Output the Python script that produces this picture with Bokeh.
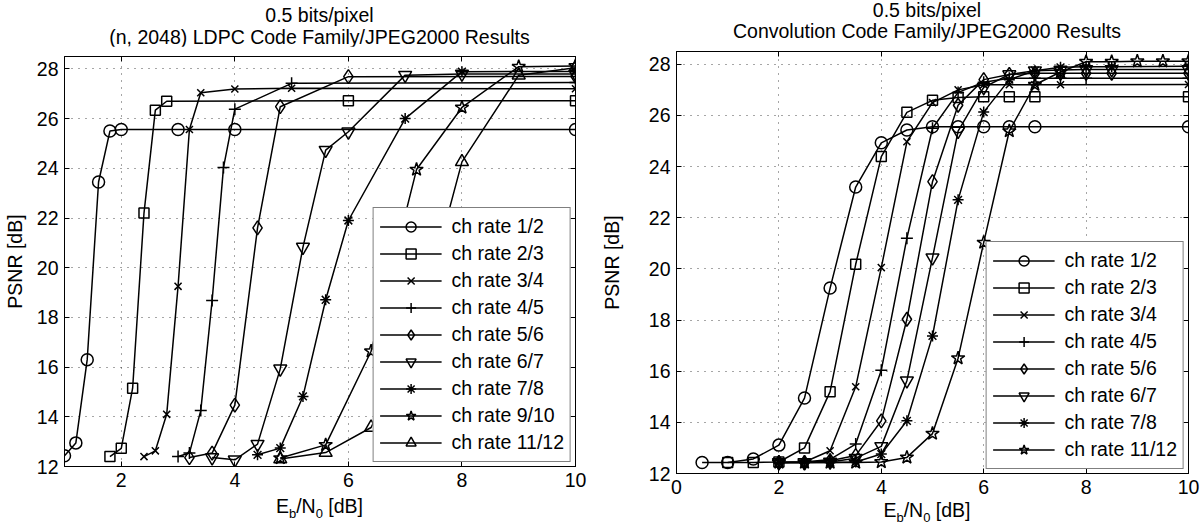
from bokeh.plotting import figure
from bokeh.layouts import row, column
from bokeh.models import FixedTicker, LinearAxis, Range1d, Div
from bokeh.embed import file_html
from bokeh.resources import INLINE

FONT = "Liberation Sans"
FS = "19.5px"

# ---------------- Left: (n, 2048) LDPC code family ----------------
ldpc_title = ["0.5 bits/pixel", "(n, 2048) LDPC Code Family/JPEG2000 Results"]
ldpc_xticks = [2, 4, 6, 8, 10]
yticks = [12, 14, 16, 18, 20, 22, 24, 26, 28]

ldpc_x_r12 = [1.0, 1.2, 1.4, 1.6, 1.8, 2.0, 3.0, 4.0, 10.0]
ldpc_y_r12 = [12.43, 12.95, 16.3, 23.45, 25.5, 25.56, 25.56, 25.56, 25.56]
ldpc_x_r23 = [1.8, 2.0, 2.2, 2.4, 2.6, 2.8, 6.0, 10.0]
ldpc_y_r23 = [12.4, 12.73, 15.15, 22.2, 26.34, 26.7, 26.72, 26.72]
ldpc_x_r34 = [2.4, 2.6, 2.8, 3.0, 3.2, 3.4, 4.0, 5.0, 10.0]
ldpc_y_r34 = [12.4, 12.63, 14.1, 19.25, 25.56, 27.04, 27.19, 27.22, 27.2]
ldpc_x_r45 = [3.0, 3.2, 3.4, 3.6, 3.8, 4.0, 5.0, 10.0]
ldpc_y_r45 = [12.4, 12.54, 14.25, 18.68, 24.03, 26.38, 27.42, 27.45]
ldpc_x_r56 = [3.2, 3.6, 4.0, 4.4, 4.8, 6.0, 10.0]
ldpc_y_r56 = [12.36, 12.54, 14.47, 21.6, 26.48, 27.69, 27.7]
ldpc_x_r67 = [3.6, 4.0, 4.4, 4.8, 5.2, 5.6, 6.0, 7.0, 8.0, 10.0]
ldpc_y_r67 = [12.36, 12.27, 12.9, 15.93, 20.83, 24.73, 25.47, 27.75, 27.8, 27.8]
ldpc_x_r78 = [4.4, 4.8, 5.2, 5.6, 6.0, 7.0, 8.0, 10.0]
ldpc_y_r78 = [12.47, 12.74, 14.82, 18.71, 21.9, 26.0, 27.89, 27.9]
ldpc_x_r910 = [4.8, 5.6, 6.4, 7.2, 8.0, 9.0, 10.0]
ldpc_y_r910 = [12.34, 12.87, 16.64, 23.95, 26.45, 28.09, 28.12]
ldpc_x_r1112 = [4.8, 5.6, 6.4, 7.2, 8.0, 9.0, 10.0]
ldpc_y_r1112 = [12.3, 12.56, 13.57, 17.4, 24.26, 27.75, 28.05]

ldpc_labels = ["ch rate 1/2", "ch rate 2/3", "ch rate 3/4", "ch rate 4/5", "ch rate 5/6",
               "ch rate 6/7", "ch rate 7/8", "ch rate 9/10", "ch rate 11/12"]
ldpc_markers = ["circle", "square", "x", "cross", "diamond", "inverted_triangle",
                "asterisk", "star", "triangle"]

# ---------------- Right: convolution code family ----------------
conv_title = ["0.5 bits/pixel", "Convolution Code Family/JPEG2000 Results"]
conv_xticks = [0, 2, 4, 6, 8, 10]

conv_x_r12 = [0.5, 1.0, 1.5, 2.0, 2.5, 3.0, 3.5, 4.0, 4.5, 5.0, 5.5, 6.0, 6.5, 7.0, 10.0]
conv_y_r12 = [12.43, 12.43, 12.57, 13.11, 14.95, 19.25, 23.2, 24.93, 25.43, 25.56, 25.56,
              25.56, 25.56, 25.56, 25.56]
conv_x_r23 = [1.0, 1.5, 2.0, 2.5, 3.0, 3.5, 4.0, 4.5, 5.0, 5.5, 6.0, 6.5, 7.0, 10.0]
conv_y_r23 = [12.43, 12.43, 12.45, 13.0, 15.2, 20.18, 24.39, 26.12, 26.59, 26.7, 26.73,
              26.73, 26.73, 26.73]
conv_x_r34 = [2.0, 2.5, 3.0, 3.5, 4.0, 4.5, 5.0, 5.5, 6.0, 6.5, 7.0, 7.5, 10.0]
conv_y_r34 = [12.43, 12.45, 12.89, 15.39, 20.05, 24.97, 26.5, 27.0, 27.2, 27.2, 27.2,
              27.2, 27.21]
conv_x_r45 = [2.0, 2.5, 3.0, 3.5, 4.0, 4.5, 5.0, 5.5, 6.0, 6.5, 7.0, 7.5, 8.0, 10.0]
conv_y_r45 = [12.43, 12.45, 12.55, 13.15, 16.04, 21.2, 25.5, 26.9, 27.3, 27.45, 27.45,
              27.45, 27.45, 27.45]
conv_x_r56 = [2.0, 2.5, 3.0, 3.5, 4.0, 4.5, 5.0, 5.5, 6.0, 6.5, 7.0, 7.5, 8.0, 8.5, 10.0]
conv_y_r56 = [12.43, 12.43, 12.5, 12.7, 14.06, 18.03, 23.41, 26.4, 27.4, 27.6, 27.65,
              27.65, 27.65, 27.65, 27.65]
conv_x_r67 = [2.0, 2.5, 3.0, 3.5, 4.0, 4.5, 5.0, 5.5, 6.0, 6.5, 7.0, 7.5, 8.0, 8.5, 10.0]
conv_y_r67 = [12.43, 12.43, 12.45, 12.6, 13.06, 15.63, 20.44, 25.39, 27.1, 27.6, 27.75,
              27.78, 27.8, 27.8, 27.8]
conv_x_r78 = [2.0, 2.5, 3.0, 3.5, 4.0, 4.5, 5.0, 5.5, 6.0, 6.5, 7.0, 7.5, 8.0, 8.5, 10.0]
conv_y_r78 = [12.43, 12.43, 12.43, 12.45, 12.76, 14.06, 17.38, 22.7, 26.13, 27.4, 27.75,
              27.88, 27.9, 27.9, 27.92]
conv_x_r1112 = [2.0, 2.5, 3.0, 3.5, 4.0, 4.5, 5.0, 5.5, 6.0, 6.5, 7.0, 7.5, 8.0, 8.5,
                9.0, 9.5, 10.0]
conv_y_r1112 = [12.43, 12.43, 12.43, 12.43, 12.45, 12.63, 13.56, 16.51, 21.03, 25.39,
                27.2, 27.7, 28.1, 28.1, 28.12, 28.12, 28.12]

conv_labels = ["ch rate 1/2", "ch rate 2/3", "ch rate 3/4", "ch rate 4/5", "ch rate 5/6",
               "ch rate 6/7", "ch rate 7/8", "ch rate 11/12"]
conv_markers = ["circle", "square", "x", "cross", "diamond", "inverted_triangle",
                "asterisk", "star"]

MARKER_SIZE = {"circle": 12, "square": 10, "x": 10, "cross": 12, "diamond": 14,
               "inverted_triangle": 13, "asterisk": 11, "star": 14, "triangle": 13}


def make_fig(xr, xticks, ml, mr, fw, fh, ylab_standoff):
    p = figure(frame_width=fw, frame_height=fh, x_range=Range1d(*xr),
               y_range=Range1d(12, 28.5), output_backend="svg", toolbar_location=None,
               min_border_left=ml, min_border_right=mr, min_border_top=10,
               min_border_bottom=30,
               background_fill_color="white", border_fill_color="white")
    p.outline_line_color = "black"
    p.outline_line_width = 1
    p.add_layout(LinearAxis(), "right")
    p.add_layout(LinearAxis(), "above")
    for ax in p.xaxis:
        ax.ticker = FixedTicker(ticks=xticks)
    for ax in p.yaxis:
        ax.ticker = FixedTicker(ticks=yticks)
    for ax in list(p.xaxis) + list(p.yaxis):
        ax.major_tick_in = 5
        ax.major_tick_out = 0
        ax.minor_tick_line_color = None
        ax.axis_line_color = "black"
        ax.major_tick_line_color = "black"
        ax.major_label_text_font = FONT
        ax.major_label_text_font_size = FS
        ax.major_label_text_color = "black"
        ax.major_label_standoff = 6
    for ax, ticks in ((p.right[0], yticks), (p.above[0], xticks)):
        ax.major_label_overrides = {t: "" for t in ticks}
        ax.major_label_standoff = 0
        ax.major_label_text_font_size = "0px"
    yl = p.left[0]
    yl.axis_label = "PSNR [dB]"
    yl.axis_label_text_font = FONT
    yl.axis_label_text_font_size = FS
    yl.axis_label_text_font_style = "normal"
    yl.axis_label_text_color = "black"
    yl.axis_label_standoff = ylab_standoff
    p.xgrid.ticker = FixedTicker(ticks=xticks)
    p.ygrid.ticker = FixedTicker(ticks=yticks)
    for g in (p.xgrid, p.ygrid):
        g.grid_line_color = "black"
        g.grid_line_alpha = 0.7
        g.grid_line_dash = "1 6"
        g.grid_line_width = 1
    return p


def add_series(p, xs, ys, label, marker):
    p.line(xs, ys, line_color="black", line_width=1.5, legend_label=label)
    p.scatter(xs, ys, marker=marker, size=MARKER_SIZE[marker], line_color="black",
              line_width=1.5, fill_color=None, legend_label=label)


def style_legend(p):
    lg = p.legend[0]
    lg.location = "bottom_right"
    lg.margin = 4
    lg.padding = 6
    lg.spacing = 2
    lg.glyph_width = 62
    lg.glyph_height = 25
    lg.label_height = 25
    lg.label_standoff = 10
    lg.label_text_font = FONT
    lg.label_text_font_size = FS
    lg.label_text_color = "black"
    lg.border_line_color = "black"
    lg.border_line_width = 1
    lg.background_fill_color = "white"
    lg.background_fill_alpha = 1.0


TXT = ("font-family:'Liberation Sans',Arial,sans-serif;font-size:19.5px;color:#000;"
       "white-space:nowrap;text-align:center;position:relative;")
SUB = "font-size:13px;vertical-align:-5px;line-height:0;"


def title_div(lines, width, height, inner_left, inner_width, top, lh):
    html = (f'<div style="{TXT}line-height:{lh}px;top:{top}px;margin-left:{inner_left}px;'
            f'width:{inner_width}px">' + "<br>".join(lines) + "</div>")
    return Div(text=html, width=width, height=height, margin=0)


def xlabel_div(width, height, inner_left, inner_width, top):
    html = (f'<div style="{TXT}line-height:20px;top:{top}px;margin-left:{inner_left}px;'
            f'width:{inner_width}px">E<sub style="{SUB}">b</sub>/N'
            f'<sub style="{SUB}">0</sub> [dB]</div>')
    return Div(text=html, width=width, height=height, margin=0)


# ---- left figure (frame: x 64..575, y 56..466)
p1 = make_fig((1, 10), ldpc_xticks, 64, 22, 511, 410, 8)
ldpc_xs = [ldpc_x_r12, ldpc_x_r23, ldpc_x_r34, ldpc_x_r45, ldpc_x_r56, ldpc_x_r67,
           ldpc_x_r78, ldpc_x_r910, ldpc_x_r1112]
ldpc_ys = [ldpc_y_r12, ldpc_y_r23, ldpc_y_r34, ldpc_y_r45, ldpc_y_r56, ldpc_y_r67,
           ldpc_y_r78, ldpc_y_r910, ldpc_y_r1112]
for xs, ys, lab, mk in zip(ldpc_xs, ldpc_ys, ldpc_labels, ldpc_markers):
    add_series(p1, xs, ys, lab, mk)
style_legend(p1)

# ---- right figure (frame: x 671..1183, y 51..473)
p2 = make_fig((0, 10), conv_xticks, 74, 12, 512, 422, 23)
conv_xs = [conv_x_r12, conv_x_r23, conv_x_r34, conv_x_r45, conv_x_r56, conv_x_r67,
           conv_x_r78, conv_x_r1112]
conv_ys = [conv_y_r12, conv_y_r23, conv_y_r34, conv_y_r45, conv_y_r56, conv_y_r67,
           conv_y_r78, conv_y_r1112]
for xs, ys, lab, mk in zip(conv_xs, conv_ys, conv_labels, conv_markers):
    add_series(p2, xs, ys, lab, mk)
style_legend(p2)

left = column(title_div(ldpc_title, 597, 46, 42, 555, 4, 22), p1,
              xlabel_div(597, 26, 42, 555, 0))
right = column(title_div(conv_title, 598, 41, 74, 512, 0, 21), p2,
               xlabel_div(598, 24, 74, 512, -3))
layout = row(left, right)
open("out.html", "w").write(file_html(layout, INLINE))
